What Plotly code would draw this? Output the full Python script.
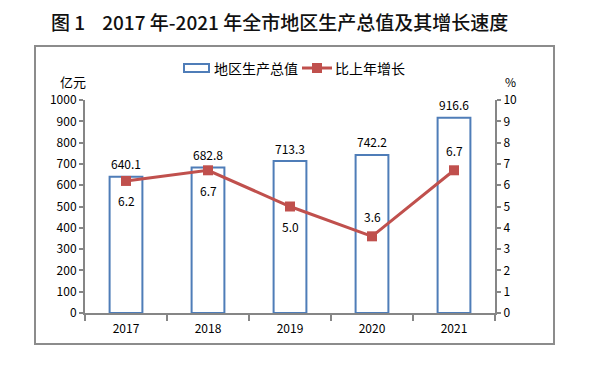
import plotly.graph_objects as go

years = ["2017", "2018", "2019", "2020", "2021"]
gdp = [640.1, 682.8, 713.3, 742.2, 916.6]
growth = [6.2, 6.7, 5.0, 3.6, 6.7]
growth_label_side = [-1, -1, -1, 1, 1]  # -1 below marker, 1 above

FONT = "Noto Sans CJK SC"
BLUE = "#4F7DB8"
RED = "#C0504D"
GREY = "#868686"

OFF = 8  # default body margin of the page
W, H = 592, 366
L, T = 85 - OFF, 100 - OFF
pw, ph = 410, 213
R, B = W - L - pw, H - T - ph


def px(x):
    return (x - OFF - L) / pw


def py(y):
    return (T + ph - (y - OFF)) / ph


fig = go.Figure()
fig.add_trace(go.Bar(
    x=years, y=gdp, name="地区生产总值", width=0.4,
    marker=dict(color="white", line=dict(color=BLUE, width=2)),
    cliponaxis=False,
))
fig.add_trace(go.Scatter(
    x=years, y=growth, name="比上年增长", yaxis="y2",
    mode="lines+markers",
    line=dict(color=RED, width=3),
    marker=dict(symbol="square", size=10, color=RED),
    cliponaxis=False,
))

annotations = []
for i, v in enumerate(gdp):
    annotations.append(dict(text=f"{v:.1f}", x=i, y=v, xref="x", yref="y",
                            yshift=13, showarrow=False, yanchor="middle",
                            font=dict(size=12, family=FONT, color="#000000")))
for i, (v, s) in enumerate(zip(growth, growth_label_side)):
    annotations.append(dict(text=f"{v:.1f}", x=i, y=v, xref="x", yref="y2",
                            yshift=20 * s, showarrow=False, yanchor="middle",
                            font=dict(size=12, family=FONT, color="#000000")))

annotations += [
    dict(text="亿元", x=px(73), y=py(81), xref="paper", yref="paper",
         showarrow=False, font=dict(size=13, family=FONT), xanchor="center", yanchor="middle"),
    dict(text="%", x=px(510), y=py(81), xref="paper", yref="paper",
         showarrow=False, font=dict(size=12, family=FONT), xanchor="center", yanchor="middle"),
    # legend texts
    dict(text="地区生产总值", x=px(212), y=py(68), xref="paper", yref="paper",
         showarrow=False, font=dict(size=14, family=FONT), xanchor="left", yanchor="middle"),
    dict(text="比上年增长", x=px(333), y=py(68), xref="paper", yref="paper",
         showarrow=False, font=dict(size=14, family=FONT), xanchor="left", yanchor="middle"),
]

shapes = [
    dict(type="rect", xref="paper", yref="paper",
         x0=px(35), x1=px(554), y0=py(344), y1=py(46),
         line=dict(color="#8C8C8C", width=2), fillcolor="rgba(0,0,0,0)", layer="below"),
    # legend symbols
    dict(type="rect", xref="paper", yref="paper",
         x0=px(184), x1=px(209), y0=py(72), y1=py(64),
         line=dict(color=BLUE, width=2), fillcolor="white"),
    dict(type="line", xref="paper", yref="paper",
         x0=px(302), x1=px(332), y0=py(68), y1=py(68),
         line=dict(color=RED, width=3)),
    dict(type="rect", xref="paper", yref="paper",
         x0=px(312), x1=px(322), y0=py(73), y1=py(63),
         line=dict(color=RED, width=0), fillcolor=RED),
]

fig.update_layout(
    width=W, height=H,
    margin=dict(l=L, r=R, t=T, b=B, autoexpand=False),
    paper_bgcolor="white", plot_bgcolor="white",
    font=dict(family=FONT, size=12, color="#000000"),
    showlegend=False,
    title=dict(text="图 1\u00a0\u00a0\u00a0\u00a02017 年-2021 年全市地区生产总值及其增长速度",
               x=(51 - OFF) / W, xanchor="left", xref="container",
               y=1 - (23 - OFF) / H, yanchor="middle", yref="container",
               font=dict(size=19, family=FONT, color="#111111", weight=500)),
    bargap=0.6,
    xaxis=dict(type="category", range=[-0.5, len(years) - 0.5], showline=True,
               linecolor=GREY, linewidth=2,
               ticks="outside", tickson="boundaries", ticklen=6, tickcolor=GREY, tickwidth=2,
               showgrid=False, tickfont=dict(size=12), ticklabelstandoff=4),
    yaxis=dict(range=[0, 1000], dtick=100, showline=True, linecolor=GREY, linewidth=2,
               ticks="outside", ticklen=4, tickcolor=GREY, tickwidth=2, showgrid=False,
               zeroline=False, tickfont=dict(size=12)),
    yaxis2=dict(range=[0, 10], dtick=1, overlaying="y", side="right", showline=True,
                linecolor=GREY, linewidth=2, ticks="outside", ticklen=4, tickcolor=GREY,
                tickwidth=2, showgrid=False, zeroline=False, tickfont=dict(size=12)),
    shapes=shapes,
    annotations=annotations,
)

fig.write_html("out.html")
